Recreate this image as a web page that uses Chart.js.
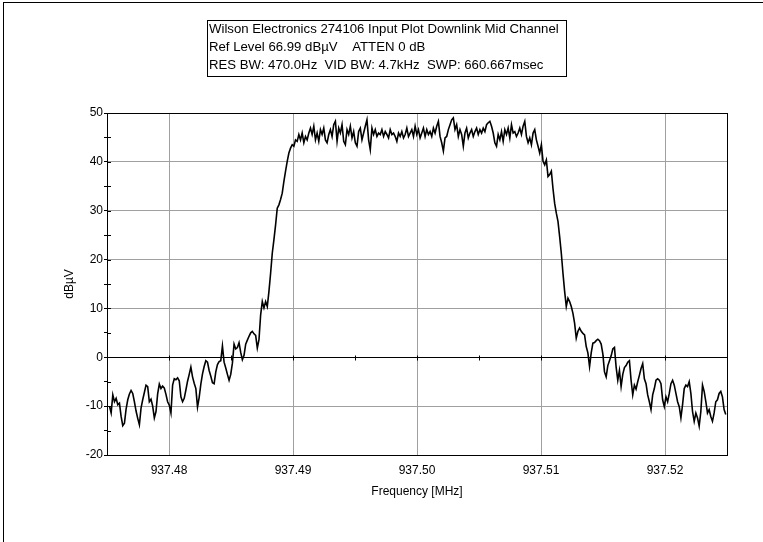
<!DOCTYPE html>
<html>
<head>
<meta charset="utf-8">
<script src="https://cdn.jsdelivr.net/npm/chart.js@4.4.1/dist/chart.umd.min.js"></script>
<style>
  html, body { margin: 0; padding: 0; background: #fff; }
</style>
</head>
<body>
<canvas id="chart" width="763" height="542"></canvas>
<script>
// header text of the analyzer plot
const infoLines = [
  'Wilson Electronics 274106 Input Plot Downlink Mid Channel',
  'Ref Level 66.99 dB\u00b5V    ATTEN 0 dB',
  'RES BW: 470.0Hz  VID BW: 4.7kHz  SWP: 660.667msec'
];

// axis setup
const xMin = 937.475, xMax = 937.525;
const xTickValues = [937.48, 937.49, 937.50, 937.51, 937.52];
const xMinorTicks = [937.48, 937.485, 937.49, 937.495, 937.50, 937.505, 937.51, 937.515, 937.52];
const yMin = -20, yMax = 50;

// sweep: evenly spaced points from start to stop
const sweepStartMHz = 937.4752;
const sweepStopMHz = 937.5249;

// trace levels (dBuV), left to right
const levelDbuV = [
  -10.0, -11.4, -7.7, -9.1, -8.4, -9.7, -9.4, -12.1, -14.0, -13.5, -10.6,
  -8.7, -7.5, -6.8, -7.4, -9.1, -11.0, -12.5, -13.8, -10.4, -8.7,
  -7.2, -5.7, -6.0, -9.1, -8.6, -10.0, -12.4, -11.1, -7.5, -5.5,
  -6.4, -5.9, -6.3, -7.6, -9.1, -9.8, -11.4, -5.7, -4.4, -4.6,
  -4.2, -4.8, -8.1, -9.1, -8.4, -6.7, -4.9, -3.5, -2.0, -4.0,
  -5.3, -6.4, -10.2, -8.2, -5.5, -3.4, -1.9, -0.7, -1.0, -2.7,
  -3.9, -5.2, -5.4, -3.0, -1.5, -0.9, -0.7, 2.3, -1.0, -2.2,
  -3.5, -4.7, -3.5, -1.2, 2.7, 1.7, 2.0, 3.0, 1.0, -0.5,
  0.4, 2.7, 3.5, 4.3, 5.0, 5.3, 4.8, 4.5, 1.9, 3.6,
  8.7, 11.4, 10.1, 11.4, 10.4, 13.5, 17.2, 21.3, 24.1, 27.1,
  30.5, 31.2, 32.3, 33.6, 36.0, 38.1, 40.1, 41.8, 42.8, 43.5,
  43.2, 44.5, 44.2, 45.6, 44.5, 45.9, 43.9, 45.2, 44.5, 45.9,
  46.9, 45.6, 47.3, 44.5, 45.9, 44.2, 46.6, 45.6, 46.9, 44.5,
  43.9, 45.6, 46.6, 45.2, 47.6, 48.3, 44.2, 46.9, 45.9, 47.6,
  44.2, 43.5, 46.6, 45.6, 47.3, 44.9, 46.2, 43.9, 43.2, 46.2,
  46.9, 44.5, 45.9, 47.3, 48.6, 44.5, 42.5, 46.9, 45.6, 46.6,
  45.2, 45.9, 45.6, 46.6, 45.2, 46.2, 45.6, 44.9, 46.6, 45.6,
  45.9, 45.2, 44.2, 45.9, 45.2, 46.2, 44.9, 45.6, 46.9, 45.2,
  45.9, 46.6, 45.2, 47.3, 45.6, 46.6, 44.9, 45.9, 46.9, 45.2,
  46.6, 45.6, 46.2, 45.2, 46.9, 45.9, 47.3, 48.3, 45.2, 43.9,
  42.2, 44.9, 45.2, 46.6, 47.6, 48.6, 49.0, 46.6, 47.6, 45.2,
  46.6, 45.6, 43.2, 45.9, 46.9, 44.9, 45.9, 46.6, 45.2, 46.2,
  46.9, 45.6, 46.6, 45.9, 46.9, 46.2, 47.6, 48.0, 48.3, 47.3,
  45.9, 43.9, 43.2, 45.6, 44.5, 46.2, 44.2, 46.6, 45.6, 46.9,
  44.9, 47.6, 45.9, 46.2, 45.2, 45.9, 46.9, 45.6, 47.3, 48.3,
  45.2, 43.9, 44.9, 43.5, 45.9, 46.6, 44.5, 43.2, 41.8, 43.5,
  40.1, 39.4, 40.4, 37.0, 37.4, 38.1, 34.5, 31.5, 29.5, 27.8,
  24.7, 21.3, 17.2, 13.5, 10.4, 12.1, 11.4, 10.4, 9.0, 7.0,
  3.9, 5.3, 6.0, 5.3, 4.9, 4.6, 2.2, 0.9, -1.9, 0.9,
  2.9, 3.0, 3.4, 3.7, 3.4, 2.7, 0.7, -3.0, -4.0, -1.7,
  -0.7, 0.3, 1.7, 2.0, -2.0, -4.7, -2.7, -6.0, -3.5, -2.1,
  -1.7, -1.0, -0.7, -4.7, -7.7, -5.7, -6.5, -5.0, -3.7, -2.3,
  -1.3, -4.4, -5.4, -7.7, -9.1, -10.7, -7.7, -6.4, -4.7, -4.4,
  -4.7, -5.4, -8.7, -10.1, -8.1, -9.1, -7.4, -5.4, -4.7, -5.7,
  -7.4, -9.1, -10.1, -12.4, -9.7, -6.4, -5.7, -6.0, -5.0, -7.4,
  -11.1, -13.1, -11.4, -12.4, -14.1, -11.1, -5.7, -7.0, -9.1, -11.4,
  -10.7, -12.1, -13.1, -11.4, -9.1, -8.7, -7.4, -7.0, -8.1, -10.7,
  -11.7
];

const step = (sweepStopMHz - sweepStartMHz) / (levelDbuV.length - 1);
const points = levelDbuV.map((v, i) => ({ x: sweepStartMHz + i * step, y: v }));

const font = { family: "'Liberation Sans', Arial, sans-serif", size: 12 };

const framePlugin = {
  id: 'frame',
  beforeDraw(chart) {
    const ctx = chart.ctx;
    ctx.save();
    ctx.fillStyle = '#fff';
    ctx.fillRect(0, 0, chart.width, chart.height);
    ctx.strokeStyle = '#000';
    ctx.lineWidth = 1;
    ctx.beginPath();
    ctx.moveTo(3, 2.5); ctx.lineTo(chart.width, 2.5);
    ctx.moveTo(3.5, 2); ctx.lineTo(3.5, chart.height);
    ctx.stroke();
    ctx.restore();
  },
  afterDatasetsDraw(chart) {
    const ctx = chart.ctx;
    const a = chart.chartArea;
    const xs = chart.scales.x, ys = chart.scales.y;
    ctx.save();
    ctx.strokeStyle = '#000';
    ctx.lineWidth = 1;
    ctx.strokeRect(Math.round(a.left) + 0.5, Math.round(a.top) + 0.5,
      Math.round(a.right - a.left), Math.round(a.bottom - a.top));
    ctx.beginPath();
    // small marks along the 0 dB line
    const y0 = Math.round(ys.getPixelForValue(0)) + 0.5;
    xMinorTicks.forEach(v => {
      const px = Math.round(xs.getPixelForValue(v)) + 0.5;
      ctx.moveTo(px, y0 - 2); ctx.lineTo(px, y0 + 3);
    });
    // y ticks also poke into the plot a little
    const left = Math.round(a.left);
    ys.ticks.forEach(t => {
      const py = Math.round(ys.getPixelForValue(t.value)) + 0.5;
      ctx.moveTo(left, py); ctx.lineTo(left + 4, py);
    });
    ctx.stroke();
    ctx.restore();
  },
  afterDraw(chart) {
    const ctx = chart.ctx;
    ctx.save();
    ctx.strokeStyle = '#000';
    ctx.lineWidth = 1;
    ctx.strokeRect(207.5, 20.5, 359, 56);
    ctx.fillStyle = '#000';
    ctx.font = "13.2px 'Liberation Sans', Arial, sans-serif";
    ctx.textBaseline = 'middle';
    infoLines.forEach((t, i) => ctx.fillText(t, 209, 29.5 + i * 18));
    ctx.restore();
  }
};

new Chart(document.getElementById('chart'), {
  type: 'line',
  data: {
    datasets: [{
      data: points,
      borderColor: '#000',
      borderWidth: 1.6,
      pointRadius: 0,
      tension: 0,
      fill: false
    }]
  },
  options: {
    responsive: false,
    animation: false,
    parsing: false,
    layout: { padding: { top: 113, right: 36, left: 0, bottom: 0 } },
    plugins: { legend: { display: false }, tooltip: { enabled: false } },
    scales: {
      x: {
        type: 'linear',
        min: xMin,
        max: xMax,
        afterBuildTicks: axis => { axis.ticks = xTickValues.map(v => ({ value: v })); },
        afterFit: axis => { axis.height = 87; },
        grid: { color: '#a0a0a0', drawTicks: false },
        border: { color: '#000' },
        ticks: {
          color: '#000', font, padding: 8, maxRotation: 0, autoSkip: false,
          callback: v => Number(v).toFixed(2)
        },
        title: { display: true, text: 'Frequency [MHz]', color: '#000', font, padding: { top: 0, bottom: 43 } }
      },
      y: {
        min: yMin,
        max: yMax,
        afterFit: axis => { axis.width = 107; },
        grid: {
          color: c => c.tick.value === 0 ? '#000' : (c.tick.value % 10 === 0 ? '#a0a0a0' : 'rgba(0,0,0,0)'),
          tickColor: '#000',
          tickLength: 3
        },
        border: { color: '#000' },
        ticks: {
          stepSize: 5, color: '#000', font, padding: 1,
          callback: v => v % 10 === 0 ? v : ''
        },
        title: { display: true, text: 'dB\u00b5V', color: '#000', font, padding: { top: 62, bottom: 0 } }
      }
    }
  },
  plugins: [framePlugin]
});
</script>
</body>
</html>
